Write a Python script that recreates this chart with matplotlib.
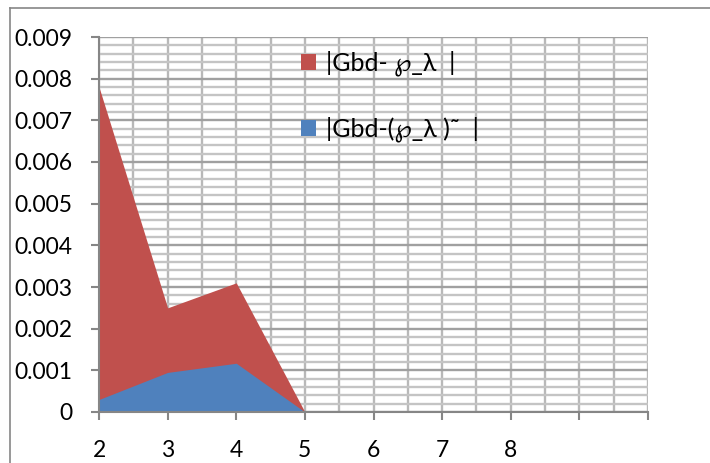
import numpy as np
import matplotlib
matplotlib.use("Agg")
import matplotlib.pyplot as plt
from matplotlib.lines import Line2D
from matplotlib.patches import Patch

# categories on the x axis (last two slots have no label)
categories = ["2", "3", "4", "5", "6", "7", "8", "", ""]
x_data = [0, 1, 2, 3]
red_vals = [0.0078, 0.0025, 0.0031, 0.0]
blue_vals = [0.0003, 0.00095, 0.00117, 0.0]
y_ticks = [0, 0.001, 0.002, 0.003, 0.004, 0.005, 0.006, 0.007, 0.008, 0.009]
y_labels = ["0", "0.001", "0.002", "0.003", "0.004", "0.005", "0.006", "0.007", "0.008", "0.009"]
legend_labels = ["|Gbd- \u2118_\u03bb  |", "|Gbd-(\u2118_\u03bb )\u02dc  |"]

red = "#C0504D"
blue = "#4F81BD"

plt.rcParams['font.family'] = ['Lato', 'DejaVu Sans']

fig = plt.figure(figsize=(7.1, 4.63), dpi=100)
W, H = 710, 463
ax = fig.add_axes([99 / W, (H - 412) / H, (648 - 99) / W, (412 - 37) / H])

ax.fill_between(x_data, red_vals, color=red, linewidth=0, zorder=3)
ax.fill_between(x_data, blue_vals, color=blue, linewidth=0, zorder=4)

ax.set_xlim(0, len(categories) - 1)
ax.set_ylim(0, 0.009)

ax.set_xticks(np.arange(len(categories)))
ax.set_xticklabels(categories)
ax.set_xticks(np.arange(0.5, len(categories) - 1, 1.0), minor=True)
ax.set_yticks(y_ticks)
ax.set_yticklabels(y_labels)
ax.set_yticks(np.arange(0, 0.009, 0.0002), minor=True)

# grid: light minor lines, slightly darker major horizontal lines
ax.grid(which="major", axis="y", color="#a0a0a0", linewidth=1.7, zorder=1)
ax.grid(which="minor", axis="y", color="#c4c4c4", linewidth=1.7, zorder=1)
ax.grid(which="both", axis="x", color="#b8b8b8", linewidth=1.7, zorder=1)
ax.set_axisbelow(True)

for s in ["top", "right"]:
    ax.spines[s].set_visible(False)
for s in ["left", "bottom"]:
    ax.spines[s].set_color("#868686")
    ax.spines[s].set_linewidth(1.5)
    ax.spines[s].set_zorder(5)

ax.tick_params(which="major", direction="out", length=6, width=1.5, color="#868686",
               labelsize=16.5, labelcolor="black")
ax.tick_params(axis="x", which="major", pad=14)
ax.tick_params(axis="y", which="major", pad=13)
ax.tick_params(which="minor", length=0)

handles = [Patch(facecolor=red, edgecolor="none"), Patch(facecolor=blue, edgecolor="none")]
ax.legend(handles, legend_labels, loc="upper left", bbox_to_anchor=(0.368, 0.963),
          frameon=False, fontsize=18, handlelength=0.6, handleheight=0.6,
          handletextpad=0.4, labelspacing=1.6, borderpad=0, borderaxespad=0)

# outer chart frame (extends past the picture on the right and bottom)
fig.add_artist(Line2D([10 / W, 10 / W], [0, 1 - 8 / H], color="#868686", linewidth=1.2))
fig.add_artist(Line2D([10 / W, 1], [1 - 8 / H, 1 - 8 / H], color="#868686", linewidth=1.2))

fig.savefig("out.png", dpi=100)
